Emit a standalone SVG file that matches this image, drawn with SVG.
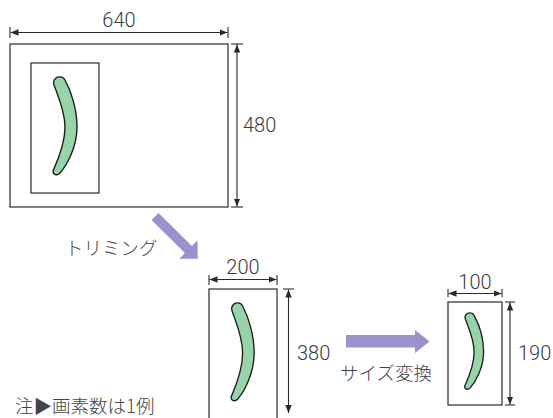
<svg xmlns="http://www.w3.org/2000/svg" width="553" height="418" viewBox="0 0 553 418">
  <style>
    .frame { fill: #ffffff; stroke: #2a2a2a; stroke-width: 1.2; }
    .dim { fill: none; stroke: #2a2a2a; stroke-width: 1.1; }
    .tick { fill: none; stroke: #2a2a2a; stroke-width: 1.1; }
    .num { font-family: Roboto, "Liberation Sans", sans-serif; font-weight: 300; font-size: 20px; fill: #3a3a3a; }
    .jp { font-family: "Noto Sans CJK JP", "Noto Sans", sans-serif; font-weight: 300; font-size: 18.5px; fill: #444444; }
    .flow { fill: #9a93cb; }
    .banana { fill: #98d3aa; stroke: #1e1e1e; stroke-width: 1.4; stroke-linejoin: round; }
  </style>
  <defs>
    <marker id="tip" viewBox="0 0 10 8" refX="10" refY="4" markerWidth="8" markerHeight="6.4" markerUnits="userSpaceOnUse" orient="auto-start-reverse">
      <path d="M0,0 L10,4 L0,8 Z" fill="#2a2a2a"/>
    </marker>
    <!-- cucumber outline, origin at the upper tip -->
    <path id="cuke" d="M-1,2 C1,-1 7,-1 9,3 C15,14 21,32 21,50 C21,70 11,88 4,96 C1,99 -3,98 -3,94 C1,85 9,68 9,50 C9,34 2,19 -2,8 C-3,5 -2,3 -1,2 Z"/>
  </defs>

  <rect width="553" height="418" fill="#ffffff"/>

  <!-- original 640 x 480 frame with crop window -->
  <g id="original">
    <rect class="frame" x="10" y="44" width="218" height="163"/>
    <rect class="frame" x="31" y="63" width="68" height="130"/>
    <use href="#cuke" class="banana" transform="translate(56,77)"/>
  </g>

  <!-- cropped 200 x 380 image -->
  <g id="cropped">
    <rect class="frame" x="209" y="289" width="68" height="140"/>
    <use href="#cuke" class="banana" transform="translate(234,303) scale(0.96,1)"/>
  </g>

  <!-- resized 100 x 190 image -->
  <g id="resized">
    <rect class="frame" x="448" y="302" width="54" height="103"/>
    <use href="#cuke" class="banana" transform="translate(467,313) scale(0.79,0.78)" style="stroke-width:1.7"/>
  </g>

  <!-- process arrows -->
  <g id="connectors">
    <polygon id="trim-arrow" class="flow" transform="translate(155,216.5) rotate(44.7)" points="0,-5 47,-5 47,-13 60,0 47,13 47,5 0,5"/>
    <polygon id="resize-arrow" class="flow" points="346,335 415,335 415,330 429.5,341.5 415,353 415,347.5 346,347.5"/>
  </g>

  <!-- dimension lines -->
  <g id="dimensions">
    <line class="tick" x1="10" y1="27" x2="10" y2="38"/>
    <line class="tick" x1="228" y1="27" x2="228" y2="38"/>
    <line class="dim" x1="10.5" y1="32.5" x2="227.5" y2="32.5" marker-start="url(#tip)" marker-end="url(#tip)"/>

    <line class="tick" x1="231" y1="44" x2="243" y2="44"/>
    <line class="tick" x1="231" y1="207" x2="243" y2="207"/>
    <line class="dim" x1="237" y1="44.5" x2="237" y2="206.5" marker-start="url(#tip)" marker-end="url(#tip)"/>

    <line class="tick" x1="209" y1="275" x2="209" y2="285"/>
    <line class="tick" x1="277" y1="275" x2="277" y2="285"/>
    <line class="dim" x1="209.5" y1="279.5" x2="276.5" y2="279.5" marker-start="url(#tip)" marker-end="url(#tip)"/>

    <line class="tick" x1="283" y1="289" x2="294" y2="289"/>
    <line class="dim" x1="288.5" y1="289.5" x2="288.5" y2="413" marker-start="url(#tip)" marker-end="url(#tip)"/>

    <line class="tick" x1="448" y1="289" x2="448" y2="297"/>
    <line class="tick" x1="502" y1="289" x2="502" y2="297"/>
    <line class="dim" x1="448.5" y1="293.5" x2="501.5" y2="293.5" marker-start="url(#tip)" marker-end="url(#tip)"/>

    <line class="tick" x1="505" y1="302" x2="515" y2="302"/>
    <line class="tick" x1="505" y1="405" x2="515" y2="405"/>
    <line class="dim" x1="510" y1="302.5" x2="510" y2="404.5" marker-start="url(#tip)" marker-end="url(#tip)"/>
  </g>

  <!-- labels -->
  <g id="labels">
    <text class="num" x="119" y="27" text-anchor="middle">640</text>
    <text class="num" x="243" y="132">480</text>
    <text class="num" x="243" y="274" text-anchor="middle">200</text>
    <text class="num" x="297" y="360">380</text>
    <text class="num" x="475" y="289" text-anchor="middle">100</text>
    <text class="num" x="518" y="360">190</text>
    <text class="jp" x="65" y="255">トリミング</text>
    <text class="jp" x="340" y="380">サイズ変換</text>
    <text class="jp" x="15" y="413">注▶画素数は1例</text>
  </g>
</svg>
